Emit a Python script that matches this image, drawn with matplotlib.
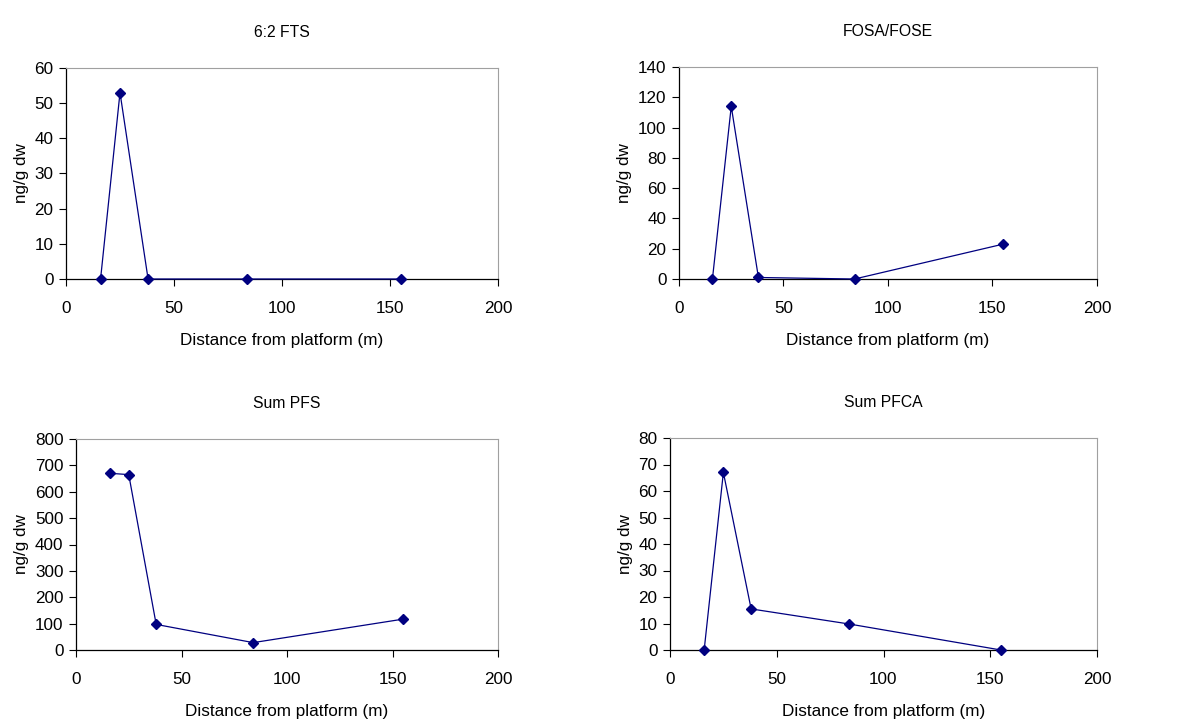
import matplotlib
matplotlib.use('Agg')
import matplotlib.pyplot as plt

plt.rcParams['font.family'] = ['Liberation Sans', 'DejaVu Sans']

distance = [16, 25, 38, 84, 155]
fts_62 = [0, 53, 0, 0, 0]
fosa_fose = [0, 114, 1, 0, 23]
sum_pfs = [670, 665, 97, 28, 117]
sum_pfca = [0, 67, 15.5, 9.8, 0]

titles = ['6:2 FTS', 'FOSA/FOSE', 'Sum PFS', 'Sum PFCA']
series = [fts_62, fosa_fose, sum_pfs, sum_pfca]
ymax = [60, 140, 800, 80]
ystep = [10, 20, 100, 10]

# axes boxes in pixels: left, right, top, bottom
W, H = 1186, 720
boxes = [(66, 498, 68, 279), (679, 1097, 67, 279),
         (76, 498, 439, 650), (670, 1097, 438, 650)]

NAVY = '#000080'

fig = plt.figure(figsize=(W / 100, H / 100), dpi=100)
fig.patch.set_facecolor('white')

for (l, r, t, b), title, ys, top, step in zip(boxes, titles, series, ymax, ystep):
    ax = fig.add_axes([l / W, 1 - b / H, (r - l) / W, (b - t) / H])
    ax.plot(distance, ys, color=NAVY, lw=0.9, marker='D', ms=5.5,
            mfc=NAVY, mec=NAVY, clip_on=False, zorder=3)
    ax.set_xlim(0, 200)
    ax.set_ylim(0, top)
    ax.set_xticks(range(0, 201, 50))
    ax.set_yticks(range(0, top + 1, step))
    for side in ('top', 'right'):
        ax.spines[side].set_color('#a0a0a0')
        ax.spines[side].set_linewidth(0.8)
    for side in ('left', 'bottom'):
        ax.spines[side].set_color('black')
        ax.spines[side].set_linewidth(0.9)
    ax.tick_params(axis='both', direction='out', length=5, width=0.8,
                   labelsize=12.3, colors='black', pad=4)
    ax.tick_params(axis='x', pad=11)
    ax.set_xlabel('Distance from platform (m)', fontsize=12.3, labelpad=12)
    ax.set_ylabel('ng/g dw', fontsize=12.3, labelpad=4)
    ax.set_title(title, fontsize=11.3, pad=22)

fig.savefig('out.png', dpi=100, facecolor='white')
